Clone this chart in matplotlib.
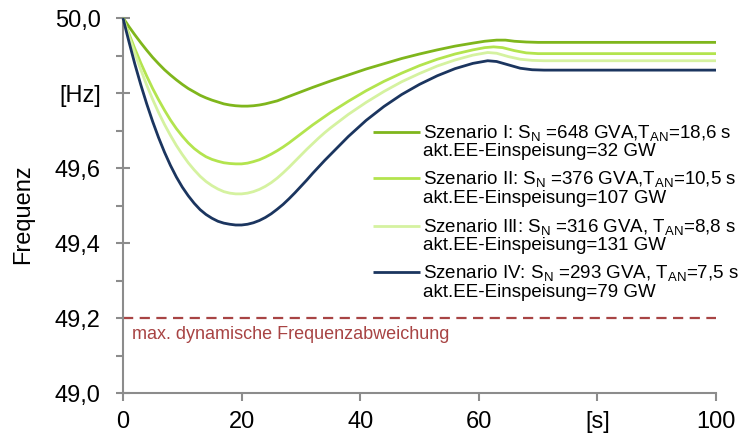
import matplotlib
matplotlib.use("Agg")
import matplotlib.pyplot as plt
from matplotlib.ticker import FixedLocator, MultipleLocator

plt.rcParams['font.family'] = ['Liberation Sans', 'DejaVu Sans']
plt.rcParams['mathtext.fontset'] = 'custom'
plt.rcParams['mathtext.rm'] = 'Liberation Sans'
plt.rcParams['mathtext.it'] = 'Liberation Sans:italic'

# Frequency response after the disturbance, per scenario (time [s], frequency [Hz])
t_s1 = [0, 0.5, 1, 2, 3, 4, 5, 6, 7, 8, 9, 10, 11, 12, 13, 14, 15, 16, 17, 18, 19, 20,
        21, 22, 23, 24, 25, 26, 27, 28, 29, 30, 32, 35, 38, 41, 44, 47, 50, 53, 56, 59,
        61, 63, 64.5, 66, 68, 70, 100]
f_s1 = [50.000, 49.989, 49.977, 49.955, 49.934, 49.914, 49.895, 49.878, 49.862, 49.848,
        49.835, 49.823, 49.812, 49.803, 49.794, 49.787, 49.781, 49.776, 49.771, 49.768,
        49.766, 49.765, 49.765, 49.766, 49.768, 49.771, 49.775, 49.779, 49.785, 49.791,
        49.797, 49.803, 49.815, 49.832, 49.848, 49.864, 49.878, 49.892, 49.904, 49.915,
        49.925, 49.933, 49.938, 49.941, 49.941, 49.938, 49.936, 49.935, 49.935]

t_s2 = [0, 0.5, 1, 2, 3, 4, 5, 6, 7, 8, 9, 10, 11, 12, 13, 14, 15, 16, 17, 18, 19, 20,
        21, 22, 23, 24, 25, 26, 27, 28, 29, 30, 31, 32, 33, 34, 35, 38, 41, 44, 47, 50,
        53, 56, 59, 61, 62.5, 64, 66, 68, 70, 100]
f_s2 = [50.000, 49.979, 49.958, 49.918, 49.880, 49.845, 49.812, 49.782, 49.754, 49.728,
        49.705, 49.685, 49.667, 49.652, 49.640, 49.630, 49.623, 49.618, 49.614, 49.612,
        49.611, 49.611, 49.613, 49.617, 49.622, 49.629, 49.637, 49.646, 49.656, 49.667,
        49.679, 49.691, 49.703, 49.715, 49.726, 49.737, 49.748, 49.778, 49.806, 49.831,
        49.853, 49.873, 49.890, 49.904, 49.915, 49.921, 49.923, 49.921, 49.913, 49.907,
        49.905, 49.905]

t_s3 = [0, 0.5, 1, 2, 3, 4, 5, 6, 7, 8, 9, 10, 11, 12, 13, 14, 15, 16, 17, 18, 19, 20,
        21, 22, 23, 24, 25, 26, 27, 28, 29, 30, 31, 32, 33, 34, 35, 38, 41, 44, 47, 50,
        53, 56, 59, 61.5, 63, 65, 67, 69, 71, 100]
f_s3 = [50.000, 49.976, 49.952, 49.906, 49.862, 49.821, 49.783, 49.748, 49.716, 49.687,
        49.660, 49.636, 49.614, 49.595, 49.578, 49.564, 49.553, 49.544, 49.537, 49.533,
        49.531, 49.531, 49.533, 49.537, 49.543, 49.551, 49.561, 49.573, 49.587, 49.602,
        49.618, 49.634, 49.650, 49.665, 49.680, 49.694, 49.707, 49.743, 49.775, 49.804,
        49.830, 49.852, 49.872, 49.888, 49.901, 49.908, 49.906, 49.897, 49.890, 49.887,
        49.886, 49.886]

t_s4 = [0, 0.5, 1, 2, 3, 4, 5, 6, 7, 8, 9, 10, 11, 12, 13, 14, 15, 16, 17, 18, 19, 20,
        21, 22, 23, 24, 25, 26, 27, 28, 29, 30, 31, 32, 33, 34, 35, 38, 41, 44, 47, 50,
        53, 56, 59, 61.5, 63, 65, 67, 69, 71, 100]
f_s4 = [50.000, 49.968, 49.937, 49.877, 49.822, 49.771, 49.724, 49.681, 49.642, 49.607,
        49.576, 49.549, 49.526, 49.506, 49.489, 49.476, 49.466, 49.458, 49.453, 49.450,
        49.448, 49.448, 49.450, 49.454, 49.460, 49.468, 49.478, 49.490, 49.503, 49.518,
        49.534, 49.551, 49.568, 49.586, 49.603, 49.620, 49.636, 49.684, 49.727, 49.764,
        49.796, 49.823, 49.846, 49.865, 49.879, 49.886, 49.884, 49.875, 49.866, 49.862,
        49.861, 49.861]

f_limit = 49.2

legend_line1 = [
    "Szenario I: S$_\\mathregular{N}$ =648 GVA,T$_\\mathregular{AN}$=18,6 s",
    "Szenario II: S$_\\mathregular{N}$ =376 GVA,T$_\\mathregular{AN}$=10,5 s",
    "Szenario III: S$_\\mathregular{N}$ =316 GVA, T$_\\mathregular{AN}$=8,8 s",
    "Szenario IV: S$_\\mathregular{N}$ =293 GVA, T$_\\mathregular{AN}$=7,5 s",
]
legend_line2 = [
    "akt.EE-Einspeisung=32 GW",
    "akt.EE-Einspeisung=107 GW",
    "akt.EE-Einspeisung=131 GW",
    "akt.EE-Einspeisung=79 GW",
]
colors = ['#7fb61c', '#b3e44e', '#d5f2a0', '#1b355f']

x_ticks = [0, 20, 40, 60, 80, 100]
x_labels = ['0', '20', '40', '60', '[s]', '100']
y_ticks = [49.0, 49.2, 49.4, 49.6, 49.8, 50.0]
y_labels = ['49,0', '49,2', '49,4', '49,6', '[Hz]', '50,0']

fig = plt.figure(figsize=(7.4, 4.39), dpi=100)
ax = fig.add_axes([123 / 740, 45 / 439, 593 / 740, 375 / 439])

series = [(t_s1, f_s1), (t_s2, f_s2), (t_s3, f_s3), (t_s4, f_s4)]
for (t, f), c in zip(series, colors):
    ax.plot(t, f, color=c, lw=2.0, solid_capstyle='butt', solid_joinstyle='round',
            clip_on=False, zorder=3)

ax.axhline(f_limit, color='#a84444', lw=1.6, dashes=(4.6, 2.9), zorder=2)
ax.text(1.6, f_limit - 0.042, "max. dynamische Frequenzabweichung",
        color='#a84444', fontsize=13, va='center', ha='left')

ax.set_xlim(0, 100)
ax.set_ylim(49.0, 50.0)
ax.xaxis.set_major_locator(FixedLocator(x_ticks))
ax.set_xticklabels(x_labels)
ax.yaxis.set_major_locator(FixedLocator(y_ticks))
ax.set_yticklabels(y_labels)
ax.yaxis.set_minor_locator(MultipleLocator(0.1))

for side in ('top', 'right'):
    ax.spines[side].set_visible(False)
for side in ('left', 'bottom'):
    ax.spines[side].set_color('#8c8c8c')
    ax.spines[side].set_linewidth(1.5)

ax.tick_params(axis='x', which='major', direction='out', length=6, width=1.5,
               color='#8c8c8c', labelsize=17, pad=6)
ax.tick_params(axis='y', which='major', direction='inout', length=10, width=1.5,
               color='#8c8c8c', labelsize=17, pad=11)
ax.tick_params(axis='y', which='minor', direction='out', length=5, width=1.5,
               color='#8c8c8c')

fig.text(23 / 740, 1 - 214 / 439, "Frequenz", rotation=90, fontsize=17,
         ha='center', va='center')

# legend keys and two-line labels
y_rows = [132.7, 179.3, 226.7, 273.3]
for ypix, c, l1, l2 in zip(y_rows, colors, legend_line1, legend_line2):
    yf = 1 - (ypix - 19) / 375
    ax.plot([250 / 593, 297 / 593], [yf, yf], transform=ax.transAxes,
            color=c, lw=2.0, clip_on=False, solid_capstyle='butt')
    ax.text(300 / 593, yf, l1, transform=ax.transAxes, fontsize=13.5,
            ha='left', va='center')
    ax.text(300 / 593, yf - 19 / 375, l2, transform=ax.transAxes, fontsize=13.5,
            ha='left', va='center')

fig.savefig("out.png", dpi=100)
